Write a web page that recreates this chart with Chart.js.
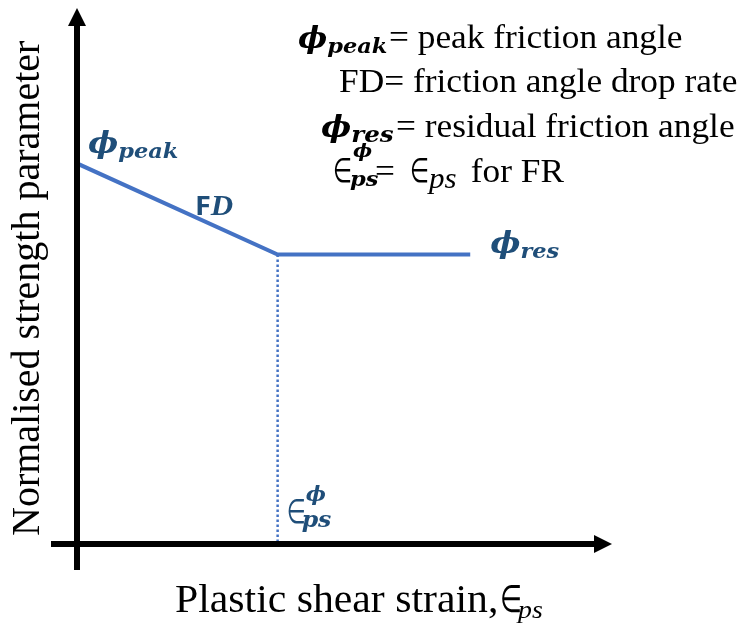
<!DOCTYPE html>
<html>
<head>
<meta charset="utf-8">
<script src="https://cdn.jsdelivr.net/npm/chart.js@4"></script>
<style>
  body { margin: 0; background: #fff; }
  #box { width: 746px; height: 626px; position: relative; }
</style>
</head>
<body>
<div id="box"><canvas id="grafico"></canvas></div>
<script>
// Dados do esquema (valores normalizados, 0-100)
const strain = [0, 37.5, 73.5];
const strength = [71, 54, 54];
const dropStrain = [37.5, 37.5];
const dropStrength = [54, 0];

const lineColor = "#4472C4";
const labelColor = "#1F4E79";
const serif = "'Liberation Serif', 'Times New Roman', serif";
const mathFont = "'DejaVu Serif', serif";
const symFont = "'DejaVu Sans', sans-serif";
const sx = 1.07; // texto horizontal um pouco esticado

// desenha uma sequencia de pedacos de texto na mesma linha
function drawRuns(ctx, x, y, runs) {
   runs.forEach(r => {
      if (r.x !== undefined) x = r.x;
      const k = sx * (r.sc || 1);
      ctx.font = r.font;
      ctx.fillStyle = r.color || "#000";
      ctx.save();
      ctx.translate(x, y + (r.dy || 0));
      ctx.scale(k, 1);
      ctx.fillText(r.t, 0, 0);
      ctx.restore();
      if (!r.stay) x += ctx.measureText(r.t).width * k;
   });
   return x;
}

const phi = (size) => `bold italic ${size}px ${mathFont}`;
const elem = (size) => `${size}px ${symFont}`;

const eixos = {
   id: 'eixos',
   afterDraw(chart) {
      const ctx = chart.ctx;
      const xs = chart.scales.x, ys = chart.scales.y;
      const x0 = xs.getPixelForValue(0), y0 = ys.getPixelForValue(0);
      const xEnd = xs.getPixelForValue(100), yTop = ys.getPixelForValue(100);
      ctx.save();
      ctx.strokeStyle = "#000";
      ctx.fillStyle = "#000";
      ctx.lineWidth = 6;
      // eixo y
      ctx.beginPath();
      ctx.moveTo(x0, y0 + 26);
      ctx.lineTo(x0, yTop + 16);
      ctx.stroke();
      ctx.beginPath();
      ctx.moveTo(x0, yTop);
      ctx.lineTo(x0 - 9, yTop + 18);
      ctx.lineTo(x0 + 9, yTop + 18);
      ctx.closePath();
      ctx.fill();
      // eixo x
      ctx.beginPath();
      ctx.moveTo(x0 - 26, y0);
      ctx.lineTo(xEnd - 16, y0);
      ctx.stroke();
      ctx.beginPath();
      ctx.moveTo(xEnd, y0);
      ctx.lineTo(xEnd - 18, y0 - 9);
      ctx.lineTo(xEnd - 18, y0 + 9);
      ctx.closePath();
      ctx.fill();

      ctx.textBaseline = "alphabetic";
      // titulos dos eixos
      drawRuns(ctx, 175, 612, [
         { t: "Plastic shear strain,", font: `39px ${serif}` },
         { t: "\u2208", font: elem(38), sc: 0.62, x: 500 },
         { t: "ps", font: `italic 26px ${serif}`, dy: 6, x: 518 }
      ]);
      ctx.save();
      ctx.translate(39, 536);
      ctx.rotate(-Math.PI / 2);
      ctx.font = `40px ${serif}`;
      ctx.fillText("Normalised strength parameter", 0, 0);
      ctx.restore();

      // rotulos no grafico
      const pk = { x: xs.getPixelForValue(strain[0]), y: ys.getPixelForValue(strength[0]) };
      drawRuns(ctx, pk.x + 11, pk.y - 10, [
         { t: "\u03D5", font: phi(30), color: labelColor },
         { t: "peak", font: phi(21), color: labelColor, dy: 5 }
      ]);
      drawRuns(ctx, 195, 215, [
         { t: "F", font: `bold 27px 'Open Sans', sans-serif`, color: labelColor },
         { t: "D", font: `bold italic 29px ${serif}`, color: labelColor }
      ]);
      const rs = { x: xs.getPixelForValue(strain[2]), y: ys.getPixelForValue(strength[2]) };
      drawRuns(ctx, rs.x + 20, rs.y - 2, [
         { t: "\u03D5", font: phi(30), color: labelColor },
         { t: "res", font: phi(21), color: labelColor, dy: 5 }
      ]);
      const bx = xs.getPixelForValue(dropStrain[0]);
      drawRuns(ctx, bx + 9, 523, [
         { t: "\u2208", font: elem(34), sc: 0.6, color: labelColor },
         { t: "\u03D5", font: phi(20), color: labelColor, dy: -22, stay: true, x: bx + 28 },
         { t: "ps", font: phi(22), color: labelColor, dy: 4, x: bx + 24 }
      ]);

      // legenda
      drawRuns(ctx, 298, 48, [
         { t: "\u03D5", font: phi(29) },
         { t: "peak", font: phi(21), dy: 5 },
         { t: "= peak friction angle", font: `33px ${serif}`, x: 389 }
      ]);
      drawRuns(ctx, 339, 92, [
         { t: "FD= friction angle drop rate", font: `33px ${serif}` }
      ]);
      drawRuns(ctx, 321, 137, [
         { t: "\u03D5", font: phi(30) },
         { t: "res", font: phi(23), dy: 5 },
         { t: "= residual friction angle", font: `33px ${serif}`, x: 396 }
      ]);
      drawRuns(ctx, 333, 182, [
         { t: "\u2208", font: elem(34), sc: 0.6 },
         { t: "\u03D5", font: phi(19), dy: -25, stay: true, x: 353 },
         { t: "ps", font: phi(21), dy: 4, x: 350 },
         { t: "=", font: `33px ${serif}`, x: 375 },
         { t: "\u2208", font: elem(34), sc: 0.6, x: 410 },
         { t: "ps", font: `italic 29px ${serif}`, dy: 6, x: 429 },
         { t: " for FR", font: `33px ${serif}`, x: 462 }
      ]);
      ctx.restore();
   }
};

const grafico = document.getElementById('grafico').getContext('2d');
const chart = new Chart(grafico, {
   type: 'scatter',
   data: {
      datasets: [
         {
            label: 'strength',
            data: strain.map((v, i) => ({ x: v, y: strength[i] })),
            showLine: true,
            borderColor: lineColor,
            borderWidth: 4,
            pointRadius: 0
         },
         {
            label: 'drop',
            data: dropStrain.map((v, i) => ({ x: v, y: dropStrength[i] })),
            showLine: true,
            borderColor: lineColor,
            borderWidth: 2.5,
            borderDash: [2.5, 2.5],
            pointRadius: 0
         }
      ]
   },
   options: {
      responsive: true,
      maintainAspectRatio: false,
      animation: false,
      layout: { padding: { left: 77, right: 134, top: 8, bottom: 82 } },
      plugins: { legend: { display: false }, tooltip: { enabled: false } },
      scales: {
         x: { type: 'linear', min: 0, max: 100, display: false },
         y: { type: 'linear', min: 0, max: 100, display: false }
      }
   },
   plugins: [eixos]
});
</script>
</body>
</html>
